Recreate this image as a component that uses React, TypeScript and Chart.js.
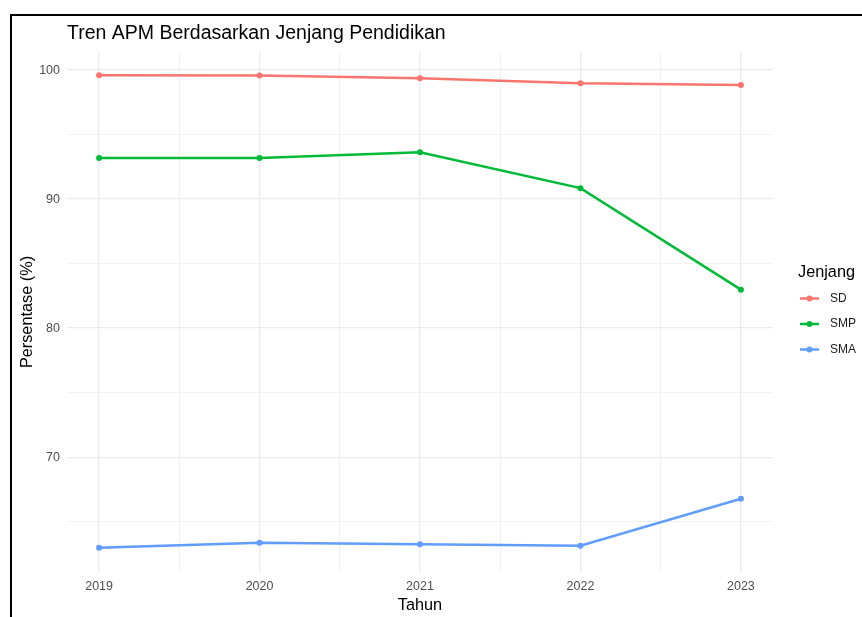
import React, { useEffect, useRef } from "react";
import { Chart, registerables } from "chart.js";

Chart.register(...registerables);

const years = [2019, 2020, 2021, 2022, 2023];
const seriesNames = ["SD", "SMP", "SMA"];
const sdValues = [99.6, 99.58, 99.37, 98.97, 98.85];
const smpValues = [93.19, 93.19, 93.63, 90.85, 82.98];
const smaValues = [62.98, 63.36, 63.26, 63.13, 66.78];
const seriesColors = ["#F8766D", "#00BA38", "#619CFF"];
const yTickValues = [65, 70, 75, 80, 85, 90, 95, 100];
const yLabelValues = [70, 80, 90, 100];

const titleText = "Tren APM Berdasarkan Jenjang Pendidikan";
const xTitle = "Tahun";
const yTitle = "Persentase (%)";
const legendTitle = "Jenjang";

const FONT = '"Liberation Sans", Arial, sans-serif';

const xTickValues: number[] = [];
years.forEach((y, i) => {
  xTickValues.push(y);
  if (i < years.length - 1) xTickValues.push((y + years[i + 1]) / 2);
});

const titlePlugin = {
  id: "ggTitle",
  afterDraw(chart: any) {
    const ctx = chart.ctx;
    ctx.save();
    ctx.font = `19.5px ${FONT}`;
    ctx.fillStyle = "#000000";
    ctx.textAlign = "left";
    ctx.textBaseline = "alphabetic";
    ctx.fillText(titleText, chart.chartArea.left, 39);
    ctx.restore();
  },
};

const legendPlugin = {
  id: "ggLegend",
  afterDraw(chart: any) {
    const ctx = chart.ctx;
    ctx.save();
    ctx.font = `16.3px ${FONT}`;
    ctx.fillStyle = "#000000";
    ctx.textAlign = "left";
    ctx.textBaseline = "alphabetic";
    ctx.fillText(legendTitle, 798, 277);
    const startY = 298.5;
    const step = 25.5;
    chart.data.datasets.forEach((ds: any, i: number) => {
      const y = startY + i * step;
      ctx.strokeStyle = ds.borderColor;
      ctx.lineWidth = 2.5;
      ctx.beginPath();
      ctx.moveTo(800, y);
      ctx.lineTo(819, y);
      ctx.stroke();
      ctx.fillStyle = ds.borderColor;
      ctx.beginPath();
      ctx.arc(809.5, y, 3, 0, Math.PI * 2);
      ctx.fill();
      ctx.fillStyle = "#1a1a1a";
      ctx.font = `12px ${FONT}`;
      ctx.textBaseline = "middle";
      ctx.fillText(ds.label, 830, y);
    });
    ctx.restore();
  },
};

export default function App() {
  const ref = useRef<HTMLCanvasElement | null>(null);

  useEffect(() => {
    if (!ref.current) return;
    const valueSets = [sdValues, smpValues, smaValues];
    const chart = new Chart(ref.current, {
      type: "line",
      data: {
        datasets: seriesNames.map((name, i) => ({
          label: name,
          data: years.map((yr, j) => ({ x: yr, y: valueSets[i][j] })),
          borderColor: seriesColors[i],
          backgroundColor: seriesColors[i],
          pointBackgroundColor: seriesColors[i],
          pointBorderWidth: 0,
          pointRadius: 3,
          borderWidth: 2.5,
          tension: 0,
          fill: false,
        })),
      },
      options: {
        animation: false,
        responsive: false,
        devicePixelRatio: 1,
        layout: { padding: { top: 52, right: 89, bottom: 0, left: 0 } },
        plugins: {
          legend: { display: false },
          title: { display: false },
          tooltip: { enabled: false },
        },
        scales: {
          x: {
            type: "linear",
            min: 2018.8,
            max: 2023.2,
            afterBuildTicks(scale: any) {
              scale.ticks = xTickValues.map((v) => ({ value: v }));
            },
            afterFit(scale: any) {
              scale.height = 45;
            },
            border: { display: false },
            grid: {
              drawTicks: false,
              color: (c: any) => (Number.isInteger(c.tick?.value) ? "#ebebeb" : "#f1f1f1"),
              lineWidth: (c: any) => (Number.isInteger(c.tick?.value) ? 1.3 : 1),
            },
            ticks: {
              padding: 7,
              color: "#4d4d4d",
              font: { size: 12.5, family: FONT },
              autoSkip: false,
              maxRotation: 0,
              callback: (v: any) => (Number.isInteger(v) ? String(v) : ""),
            },
            title: {
              display: true,
              text: xTitle,
              color: "#000000",
              font: { size: 16.3, family: FONT },
              padding: { top: 0, bottom: 1.6 },
            },
          },
          y: {
            type: "linear",
            min: 61.1,
            max: 101.4,
            afterBuildTicks(scale: any) {
              scale.ticks = yTickValues.map((v) => ({ value: v }));
            },
            afterFit(scale: any) {
              scale.width = 67;
            },
            border: { display: false },
            grid: {
              drawTicks: false,
              color: (c: any) => (yLabelValues.includes(c.tick?.value) ? "#ebebeb" : "#f1f1f1"),
              lineWidth: (c: any) => (yLabelValues.includes(c.tick?.value) ? 1.3 : 1),
            },
            ticks: {
              padding: 7,
              color: "#4d4d4d",
              font: { size: 12.5, family: FONT },
              autoSkip: false,
              callback: (v: any) => (yLabelValues.includes(v) ? String(v) : ""),
            },
            title: {
              display: true,
              text: yTitle,
              color: "#000000",
              font: { size: 16.3, family: FONT },
              padding: { top: 18.1, bottom: 0 },
            },
          },
        },
      },
      plugins: [titlePlugin, legendPlugin],
    } as any);
    return () => chart.destroy();
  }, []);

  return (
    <div
      style={{
        position: "absolute",
        left: 0,
        top: 0,
        width: 862,
        height: 617,
        background: "#ffffff",
        overflow: "hidden",
      }}
    >
      <canvas
        ref={ref}
        width={862}
        height={617}
        style={{ position: "absolute", left: 0, top: 0, width: 862, height: 617 }}
      />
      <div
        style={{
          position: "absolute",
          left: 10,
          top: 14,
          width: 852,
          height: 603,
          borderLeft: "2px solid #000",
          borderTop: "2px solid #000",
          boxSizing: "border-box",
          pointerEvents: "none",
        }}
      />
    </div>
  );
}
